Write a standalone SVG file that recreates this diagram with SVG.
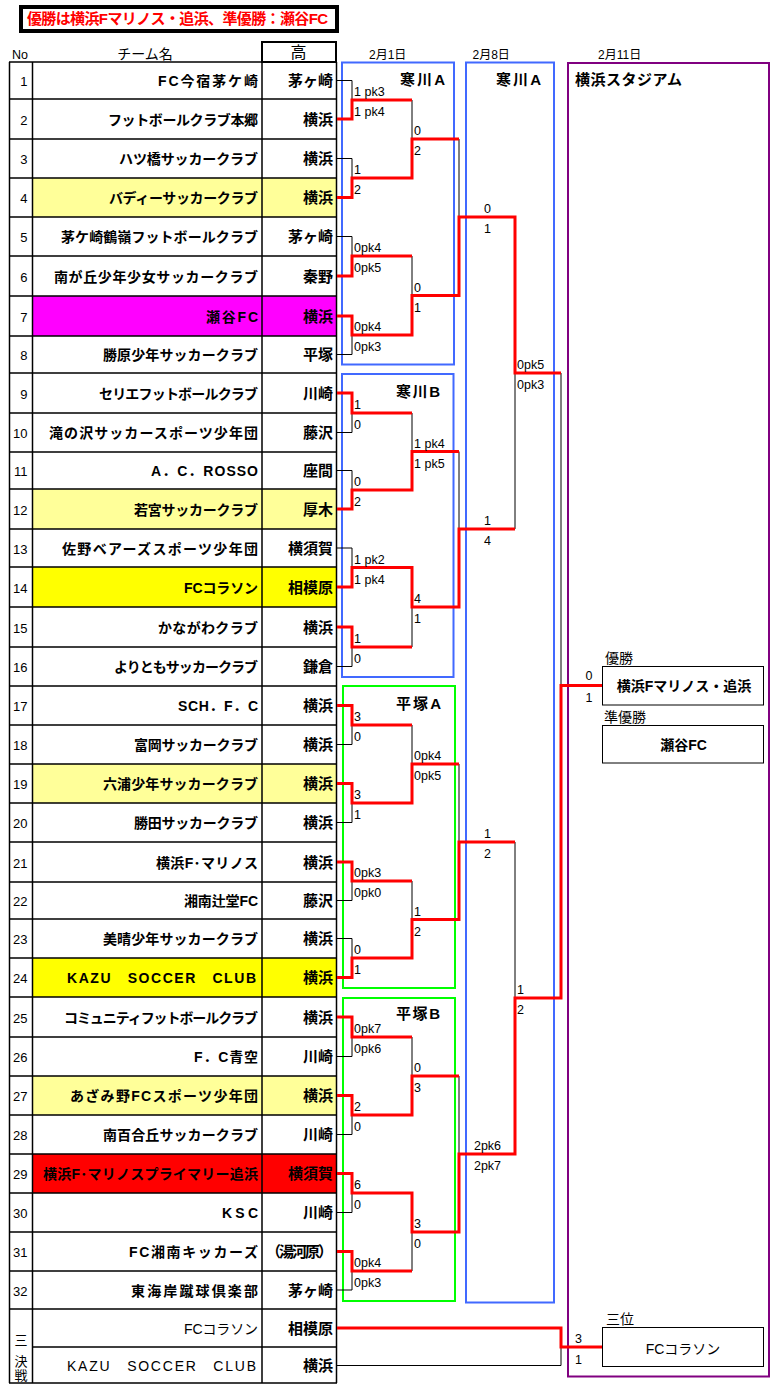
<svg xmlns="http://www.w3.org/2000/svg" width="773" height="1389" viewBox="0 0 773 1389">
<style>
text{font-family:"Liberation Sans","Noto Sans CJK JP",sans-serif;fill:#000}
.name{font-size:14px;font-weight:bold;text-anchor:end}
.nameR{font-size:14px;text-anchor:end}
.pref{font-size:15px;font-weight:bold;text-anchor:end}
.no{font-size:13px;text-anchor:end}
.sc{font-size:12.5px}
.scm{font-size:12.5px;text-anchor:middle}
.lbl{font-size:14px}
.venue{font-size:15px;font-weight:bold;text-anchor:end}
.date{font-size:12px}
.res{font-size:14px;font-weight:bold;text-anchor:middle}
.grid{stroke:#000;stroke-width:1.5;fill:none}
.w{stroke:#f00;stroke-width:3;fill:none;stroke-linejoin:miter}
.l{stroke:#000;stroke-width:1;fill:none}
.blue{fill:none;stroke:#4169ff;stroke-width:2}
.green{fill:none;stroke:#00ff00;stroke-width:2}
.purple{fill:none;stroke:#800080;stroke-width:2}
.box{fill:#fff;stroke:#000;stroke-width:1}
</style>

<g id="title">
<rect x="21" y="7" width="316" height="24" fill="#fff" stroke="#000" stroke-width="4"/>
<text x="27" y="24" style="font-size:15px;font-weight:bold;fill:#f00" textLength="301" lengthAdjust="spacing">優勝は横浜Fマリノス・追浜、準優勝：瀬谷FC</text>
</g>

<g id="header">
<text x="12" y="59" style="font-size:12.5px">No</text>
<text x="145" y="59" style="font-size:14px;text-anchor:middle">チーム名</text>
<rect x="262" y="42" width="74" height="20" fill="#fff" stroke="#000" stroke-width="2"/>
<text x="298.5" y="58" style="font-size:16px;text-anchor:middle">高</text>
<text class="date" x="369" y="58.5">2月1日</text>
<text class="date" x="472.5" y="58.5">2月8日</text>
<text class="date" x="598" y="58.5">2月11日</text>
</g>

<g id="row-fills">
<rect x="32" y="178" width="305" height="39" fill="#ffff99"/>
<rect x="32" y="296" width="305" height="40" fill="#ff00ff"/>
<rect x="32" y="489" width="305" height="40" fill="#ffff99"/>
<rect x="32" y="567" width="305" height="40" fill="#ffff00"/>
<rect x="32" y="764" width="305" height="39" fill="#ffff99"/>
<rect x="32" y="958" width="305" height="39" fill="#ffff00"/>
<rect x="32" y="1076" width="305" height="39" fill="#ffff99"/>
<rect x="32" y="1154" width="305" height="39" fill="#ff0000"/>
</g>

<g id="table-grid" class="grid">
<path d="M9,62H337M9,99H337M9,139H337M9,178H337M9,217H337M9,256H337M9,296H337M9,336H337M9,373H337M9,413H337M9,452H337M9,489H337M9,529H337M9,567H337M9,607H337M9,647H337M9,686H337M9,725H337M9,764H337M9,803H337M9,842H337M9,882H337M9,919H337M9,958H337M9,997H337M9,1037H337M9,1076H337M9,1115H337M9,1154H337M9,1193H337M9,1232H337M9,1271H337M9,1309H337M32,1347H337M9,1383H337"/>
<path d="M9.5,62V1383M32.5,62V1383M262,62V1383M336.5,62V1383"/>
</g>

<g id="team-1"><text class="no" x="27.5" y="86">1</text><text class="name" x="258" y="86" textLength="100" lengthAdjust="spacing">FC今宿茅ケ崎</text><text class="pref" x="333" y="86">茅ヶ崎</text></g>
<g id="team-2"><text class="no" x="27.5" y="124.5">2</text><text class="name" x="258" y="124.5" textLength="150" lengthAdjust="spacing">フットボールクラブ本郷</text><text class="pref" x="333" y="124.5">横浜</text></g>
<g id="team-3"><text class="no" x="27.5" y="164">3</text><text class="name" x="258" y="164" textLength="139" lengthAdjust="spacing">ハツ橋サッカークラブ</text><text class="pref" x="333" y="164">横浜</text></g>
<g id="team-4"><text class="no" x="27.5" y="203">4</text><text class="name" x="258" y="203" textLength="149" lengthAdjust="spacing">バディーサッカークラブ</text><text class="pref" x="333" y="203">横浜</text></g>
<g id="team-5"><text class="no" x="27.5" y="242">5</text><text class="name" x="258" y="242" textLength="197" lengthAdjust="spacing">茅ケ崎鶴嶺フットボールクラブ</text><text class="pref" x="333" y="242">茅ヶ崎</text></g>
<g id="team-6"><text class="no" x="27.5" y="281.5">6</text><text class="name" x="258" y="281.5" textLength="204" lengthAdjust="spacing">南が丘少年少女サッカークラブ</text><text class="pref" x="333" y="281.5">秦野</text></g>
<g id="team-7"><text class="no" x="27.5" y="321.5">7</text><text class="name" x="258" y="321.5" textLength="52" lengthAdjust="spacing">瀬谷FC</text><text class="pref" x="333" y="321.5">横浜</text></g>
<g id="team-8"><text class="no" x="27.5" y="360">8</text><text class="name" x="258" y="360" textLength="155" lengthAdjust="spacing">勝原少年サッカークラブ</text><text class="pref" x="333" y="360">平塚</text></g>
<g id="team-9"><text class="no" x="27.5" y="398.5">9</text><text class="name" x="258" y="398.5" textLength="159" lengthAdjust="spacing">セリエフットボールクラブ</text><text class="pref" x="333" y="398.5">川崎</text></g>
<g id="team-10"><text class="no" x="27.5" y="438">10</text><text class="name" x="258" y="438" textLength="209" lengthAdjust="spacing">滝の沢サッカースポーツ少年団</text><text class="pref" x="333" y="438">藤沢</text></g>
<g id="team-11"><text class="no" x="27.5" y="476">11</text><text class="name" x="258" y="476" textLength="107" lengthAdjust="spacing">A．C．ROSSO</text><text class="pref" x="333" y="476">座間</text></g>
<g id="team-12"><text class="no" x="27.5" y="514.5">12</text><text class="name" x="258" y="514.5" textLength="124" lengthAdjust="spacing">若宮サッカークラブ</text><text class="pref" x="333" y="514.5">厚木</text></g>
<g id="team-13"><text class="no" x="27.5" y="553.5">13</text><text class="name" x="258" y="553.5" textLength="196" lengthAdjust="spacing">佐野ベアーズスポーツ少年団</text><text class="pref" x="333" y="553.5">横須賀</text></g>
<g id="team-14"><text class="no" x="27.5" y="592.5">14</text><text class="name" x="258" y="592.5" textLength="74" lengthAdjust="spacing">FCコラソン</text><text class="pref" x="333" y="592.5">相模原</text></g>
<g id="team-15"><text class="no" x="27.5" y="632.5">15</text><text class="name" x="258" y="632.5" textLength="100" lengthAdjust="spacing">かながわクラブ</text><text class="pref" x="333" y="632.5">横浜</text></g>
<g id="team-16"><text class="no" x="27.5" y="672">16</text><text class="name" x="258" y="672" textLength="144" lengthAdjust="spacing">よりともサッカークラブ</text><text class="pref" x="333" y="672">鎌倉</text></g>
<g id="team-17"><text class="no" x="27.5" y="711">17</text><text class="name" x="258" y="711" textLength="80" lengthAdjust="spacing">SCH．F．C</text><text class="pref" x="333" y="711">横浜</text></g>
<g id="team-18"><text class="no" x="27.5" y="750">18</text><text class="name" x="258" y="750" textLength="124" lengthAdjust="spacing">富岡サッカークラブ</text><text class="pref" x="333" y="750">横浜</text></g>
<g id="team-19"><text class="no" x="27.5" y="789">19</text><text class="name" x="258" y="789" textLength="155" lengthAdjust="spacing">六浦少年サッカークラブ</text><text class="pref" x="333" y="789">横浜</text></g>
<g id="team-20"><text class="no" x="27.5" y="828">20</text><text class="name" x="258" y="828" textLength="124" lengthAdjust="spacing">勝田サッカークラブ</text><text class="pref" x="333" y="828">横浜</text></g>
<g id="team-21"><text class="no" x="27.5" y="867.5">21</text><text class="name" x="258" y="867.5" textLength="102" lengthAdjust="spacing">横浜F･マリノス</text><text class="pref" x="333" y="867.5">横浜</text></g>
<g id="team-22"><text class="no" x="27.5" y="906">22</text><text class="name" x="258" y="906" textLength="74" lengthAdjust="spacing">湘南辻堂FC</text><text class="pref" x="333" y="906">藤沢</text></g>
<g id="team-23"><text class="no" x="27.5" y="944">23</text><text class="name" x="258" y="944" textLength="155" lengthAdjust="spacing">美晴少年サッカークラブ</text><text class="pref" x="333" y="944">横浜</text></g>
<g id="team-24"><text class="no" x="27.5" y="983">24</text><text class="name" x="256" y="983" textLength="189" lengthAdjust="spacing">KAZU　SOCCER　CLUB</text><text class="pref" x="333" y="983">横浜</text></g>
<g id="team-25"><text class="no" x="27.5" y="1022.5">25</text><text class="name" x="258" y="1022.5" textLength="194" lengthAdjust="spacing">コミュニティフットボールクラブ</text><text class="pref" x="333" y="1022.5">横浜</text></g>
<g id="team-26"><text class="no" x="27.5" y="1062">26</text><text class="name" x="258" y="1062" textLength="64" lengthAdjust="spacing">F．C青空</text><text class="pref" x="333" y="1062">川崎</text></g>
<g id="team-27"><text class="no" x="27.5" y="1101">27</text><text class="name" x="258" y="1101" textLength="188" lengthAdjust="spacing">あざみ野FCスポーツ少年団</text><text class="pref" x="333" y="1101">横浜</text></g>
<g id="team-28"><text class="no" x="27.5" y="1140">28</text><text class="name" x="258" y="1140" textLength="155" lengthAdjust="spacing">南百合丘サッカークラブ</text><text class="pref" x="333" y="1140">川崎</text></g>
<g id="team-29"><text class="no" x="27.5" y="1179">29</text><text class="name" x="258" y="1179" textLength="215" lengthAdjust="spacing">横浜F･マリノスプライマリー追浜</text><text class="pref" x="333" y="1179">横須賀</text></g>
<g id="team-30"><text class="no" x="27.5" y="1218">30</text><text class="name" x="258" y="1218" textLength="36" lengthAdjust="spacing">KSC</text><text class="pref" x="333" y="1218">川崎</text></g>
<g id="team-31"><text class="no" x="27.5" y="1257">31</text><text class="name" x="258" y="1257" textLength="129" lengthAdjust="spacing">FC湘南キッカーズ</text><text class="pref" x="333" y="1257" textLength="67" lengthAdjust="spacing">（湯河原）</text></g>
<g id="team-32"><text class="no" x="27.5" y="1295.5">32</text><text class="name" x="258" y="1295.5" textLength="127" lengthAdjust="spacing">東海岸蹴球倶楽部</text><text class="pref" x="333" y="1295.5">茅ヶ崎</text></g>
<g id="third-place-label">
<text x="21" y="1345" style="font-size:13px;text-anchor:middle">三</text>
<text x="21" y="1365.5" style="font-size:13px;text-anchor:middle">決</text>
<text x="21" y="1379.5" style="font-size:13px;text-anchor:middle">戦</text>
</g>
<g id="third-1"><text class="nameR" x="258" y="1333.5" textLength="74" lengthAdjust="spacing">FCコラソン</text><text class="pref" x="333" y="1333.5">相模原</text></g>
<g id="third-2"><text class="nameR" x="256" y="1371" textLength="189" lengthAdjust="spacing">KAZU　SOCCER　CLUB</text><text class="pref" x="333" y="1371">横浜</text></g>

<g id="venue-samukawa-a">
<rect class="blue" x="342" y="62.5" width="112" height="302"/>
<text class="venue" x="445" y="84.5" textLength="45" lengthAdjust="spacing">寒川A</text>
</g>
<g id="venue-samukawa-b">
<rect class="blue" x="342" y="374" width="111.5" height="303"/>
<text class="venue" x="440" y="396.5" textLength="44" lengthAdjust="spacing">寒川B</text>
</g>
<g id="venue-hiratsuka-a">
<rect class="green" x="343" y="686" width="112" height="302"/>
<text class="venue" x="441" y="708.5" textLength="45" lengthAdjust="spacing">平塚A</text>
</g>
<g id="venue-hiratsuka-b">
<rect class="green" x="343" y="998" width="112" height="303"/>
<text class="venue" x="440" y="1018.5" textLength="44" lengthAdjust="spacing">平塚B</text>
</g>
<g id="venue-samukawa-a-day2">
<rect class="blue" x="466" y="62.5" width="88" height="1240"/>
<text class="venue" x="541" y="84.5" textLength="45" lengthAdjust="spacing">寒川A</text>
</g>
<g id="venue-yokohama-stadium">
<rect class="purple" x="568" y="63" width="201" height="1313.5"/>
<text x="575" y="85" style="font-size:15px;font-weight:bold" textLength="107" lengthAdjust="spacing">横浜スタジアム</text>
</g>

<g id="result-champion">
<text class="lbl" x="605" y="663">優勝</text>
<rect class="box" x="602.5" y="666.5" width="161" height="38.5"/>
<text class="res" x="684" y="691">横浜Fマリノス・追浜</text>
</g>
<g id="result-runner-up">
<text class="lbl" x="604" y="722">準優勝</text>
<rect class="box" x="602.5" y="725.5" width="161" height="37.5"/>
<text class="res" x="683.5" y="749.5">瀬谷FC</text>
</g>
<g id="result-third">
<text class="lbl" x="606" y="1324">三位</text>
<rect class="box" x="602.5" y="1327.5" width="161" height="39"/>
<text x="683" y="1353.5" style="font-size:14px;text-anchor:middle">FCコラソン</text>
</g>

<g id="connectors">
<g class="l">
<path d="M337,80.5H352V100M337,158.5H352V178M337,236.5H352V256M337,354.5H352V335M337,432.5H352V413M337,470.5H352V490M337,548H352V567.5M337,666.5H352V647M337,744.5H352V725M337,822.5H352V803M337,900.5H352V881M337,938.5H352V958M337,1056.5H352V1037M337,1134.5H352V1115M337,1212.5H352V1193M337,1290H352V1271"/>
<path d="M412,100V139M412,256V295.5M412,413V451.5M412,647V607M412,725V764M412,881V919.5M412,1037V1076M412,1271V1232"/>
<path d="M459,139V217M459,451.5V529M459,764V842M459,1076V1154"/>
<path d="M515,529V373M515,842V998M561,373V685.5"/>
<path d="M337,1365.5H561V1347"/>
</g>
<g class="w">
<path d="M337,119H352V100H412"/>
<path d="M337,197.5H352V178H412V139H459"/>
<path d="M337,276H352V256H412"/>
<path d="M337,316H352V335H412V295.5H459V217H515V373H561"/>
<path d="M337,393H352V413H412"/>
<path d="M337,509H352V490H412V451.5H459"/>
<path d="M337,587H352V567.5H412V607H459V529H515"/>
<path d="M337,627H352V647H412"/>
<path d="M337,705.5H352V725H412"/>
<path d="M337,783.5H352V803H412V764H459"/>
<path d="M337,862H352V881H412"/>
<path d="M337,977.5H352V958H412V919.5H459V842H515"/>
<path d="M337,1017H352V1037H412"/>
<path d="M337,1095.5H352V1115H412V1076H459"/>
<path d="M337,1173.5H352V1193H412V1232H459V1154H515V998H561V685.5H602"/>
<path d="M337,1251.5H352V1271H412"/>
<path d="M337,1328H561V1347H602"/>
</g>
</g>

<g id="scores">
<text class="sc" x="354" y="96">1 pk3</text><text class="sc" x="354" y="116">1 pk4</text>
<text class="sc" x="354" y="174">1</text><text class="sc" x="354" y="194">2</text>
<text class="sc" x="354" y="252">0pk4</text><text class="sc" x="354" y="272">0pk5</text>
<text class="sc" x="354" y="331">0pk4</text><text class="sc" x="354" y="351">0pk3</text>
<text class="sc" x="354" y="409">1</text><text class="sc" x="354" y="429">0</text>
<text class="sc" x="354" y="486">0</text><text class="sc" x="354" y="506">2</text>
<text class="sc" x="354" y="563.5">1 pk2</text><text class="sc" x="354" y="583.5">1 pk4</text>
<text class="sc" x="354" y="643">1</text><text class="sc" x="354" y="663">0</text>
<text class="sc" x="354" y="721">3</text><text class="sc" x="354" y="741">0</text>
<text class="sc" x="354" y="799">3</text><text class="sc" x="354" y="819">1</text>
<text class="sc" x="354" y="877">0pk3</text><text class="sc" x="354" y="897">0pk0</text>
<text class="sc" x="354" y="954">0</text><text class="sc" x="354" y="974">1</text>
<text class="sc" x="354" y="1033">0pk7</text><text class="sc" x="354" y="1053">0pk6</text>
<text class="sc" x="354" y="1111">2</text><text class="sc" x="354" y="1131">0</text>
<text class="sc" x="354" y="1189">6</text><text class="sc" x="354" y="1209">0</text>
<text class="sc" x="354" y="1267">0pk4</text><text class="sc" x="354" y="1287">0pk3</text>
<text class="sc" x="414" y="135">0</text><text class="sc" x="414" y="155">2</text>
<text class="sc" x="414" y="291.5">0</text><text class="sc" x="414" y="311.5">1</text>
<text class="sc" x="414" y="447.5">1 pk4</text><text class="sc" x="414" y="467.5">1 pk5</text>
<text class="sc" x="414" y="603">4</text><text class="sc" x="414" y="623">1</text>
<text class="sc" x="414" y="760">0pk4</text><text class="sc" x="414" y="780">0pk5</text>
<text class="sc" x="414" y="915.5">1</text><text class="sc" x="414" y="935.5">2</text>
<text class="sc" x="414" y="1072">0</text><text class="sc" x="414" y="1092">3</text>
<text class="sc" x="414" y="1228">3</text><text class="sc" x="414" y="1248">0</text>
<text class="scm" x="487.5" y="213">0</text><text class="scm" x="487.5" y="233">1</text>
<text class="scm" x="487.5" y="525">1</text><text class="scm" x="487.5" y="545">4</text>
<text class="scm" x="487.5" y="838">1</text><text class="scm" x="487.5" y="858">2</text>
<text class="scm" x="487.5" y="1150">2pk6</text><text class="scm" x="487.5" y="1170">2pk7</text>
<text class="sc" x="517" y="369">0pk5</text><text class="sc" x="517" y="389">0pk3</text>
<text class="sc" x="517" y="994">1</text><text class="sc" x="517" y="1014">2</text>
<text class="scm" x="589" y="680">0</text><text class="scm" x="589" y="702">1</text>
<text class="sc" x="575" y="1343">3</text><text class="sc" x="575" y="1364">1</text>
</g>
</svg>
